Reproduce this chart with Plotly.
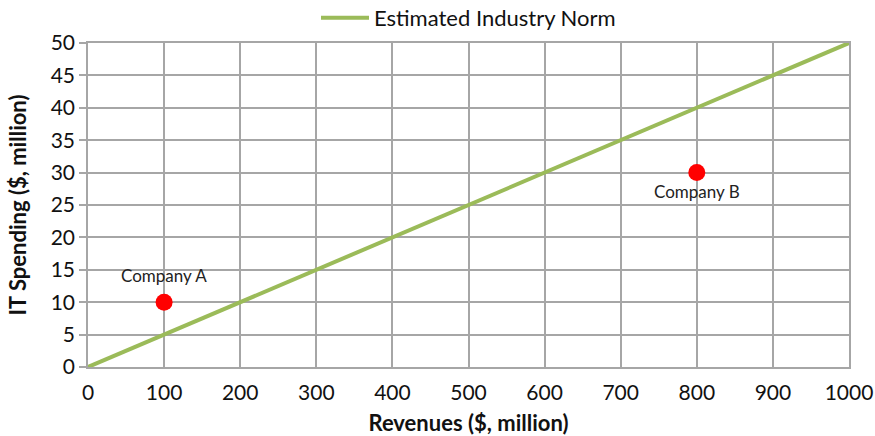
import plotly.graph_objects as go

# Industry norm: IT spending as a share of revenues
norm_revenue = [0, 1000]
norm_spending = [0, 50]

# Individual companies
company_names = ["Company A", "Company B"]
company_revenue = [100, 800]
company_spending = [10, 30]

FONT = "Lato, 'Open Sans', sans-serif"

fig = go.Figure()

fig.add_trace(go.Scatter(
    x=norm_revenue, y=norm_spending, mode="lines",
    name="Estimated Industry Norm",
    line=dict(color="#9bbb59", width=4),
))

fig.add_trace(go.Scatter(
    x=company_revenue, y=company_spending, mode="markers",
    marker=dict(color="#ff0000", size=17, line=dict(width=0)),
    showlegend=False, hoverinfo="text", text=company_names,
))

# Company labels: A sits above its point, B below
label_yshift = [27, -19]
for name, xv, yv, dy in zip(company_names, company_revenue, company_spending, label_yshift):
    fig.add_annotation(
        x=xv, y=yv, text=name, showarrow=False, yshift=dy,
        font=dict(family=FONT, size=17, color="#222222"),
    )

fig.update_layout(
    width=875, height=436,
    margin=dict(l=88, r=26, t=43, b=69, autoexpand=False),
    paper_bgcolor="white", plot_bgcolor="white",
    font=dict(family=FONT, color="#111111"),
    showlegend=True,
    legend=dict(
        orientation="h", x=0.5, xanchor="center", y=1.077, yanchor="middle",
        font=dict(family=FONT, size=22, color="#111111"),
        bgcolor="rgba(0,0,0,0)", itemwidth=48,
    ),
    xaxis=dict(
        range=[0, 1000], dtick=100, tick0=0, automargin=False,
        showgrid=True, gridcolor="#a6a6a6", gridwidth=1.5,
        showline=True, linecolor="#a6a6a6", linewidth=1.5, mirror=True,
        zeroline=False, ticks="outside", ticklen=6, tickcolor="rgba(0,0,0,0)",
        tickfont=dict(family=FONT, size=21, color="#111111"),
        title=dict(text="<b>Revenues ($, million)</b>", standoff=13,
                   font=dict(family=FONT, size=22, color="#111111")),
    ),
    yaxis=dict(
        range=[0, 50], dtick=5, tick0=0, automargin=False,
        showgrid=True, gridcolor="#a6a6a6", gridwidth=1.5,
        showline=True, linecolor="#a6a6a6", linewidth=1.5, mirror=True,
        zeroline=False, ticks="outside", ticklen=7, tickcolor="#a6a6a6", tickwidth=1.5,
        tickfont=dict(family=FONT, size=21, color="#111111"),
        title=dict(text="<b>IT Spending ($, million)</b>", standoff=18,
                   font=dict(family=FONT, size=22, color="#111111")),
    ),
)

fig.write_html("out.html")
